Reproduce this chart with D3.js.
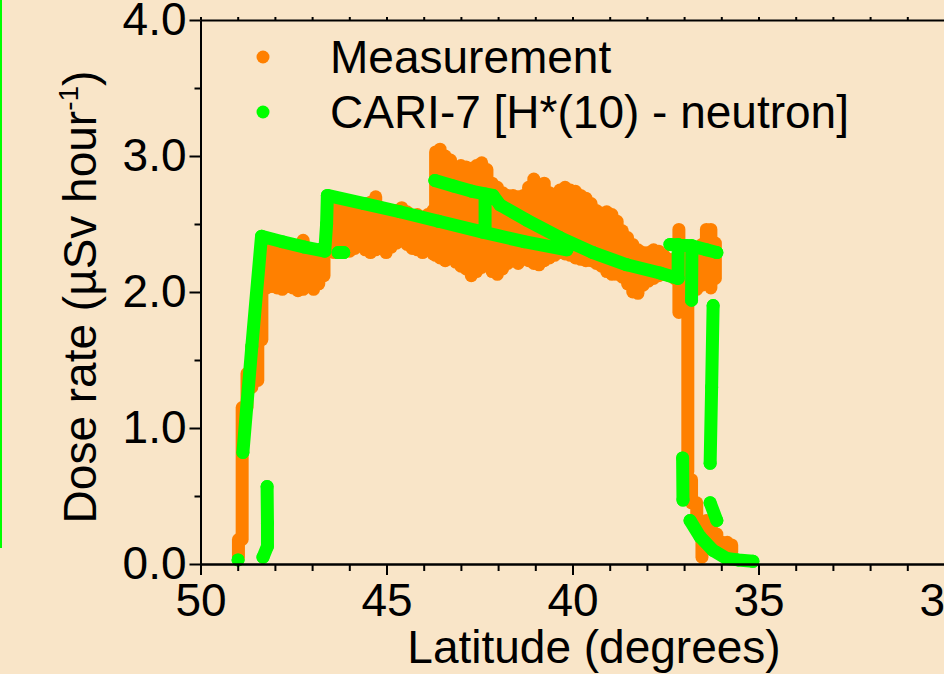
<!DOCTYPE html>
<html>
<head>
<meta charset="utf-8">
<script src="https://cdn.jsdelivr.net/npm/d3@7"></script>
<style>
  html, body { margin: 0; padding: 0; background: #f9e5c8; }
  svg { display: block; }
  text { font-family: "Liberation Sans", Arial, sans-serif; fill: #000; }
</style>
</head>
<body>
<svg id="chart" width="944" height="674"></svg>
<script>
// ---------------- DATA ----------------
// Measurement: per-latitude bins, low / high of the dense point cloud (µSv/h)
const measLat  = [48.98,48.88,48.75,48.62,48.46,48.35,48.22,48.08,47.94,47.80,47.66,47.52,47.38,47.24,47.10,46.96,46.82,46.68,
                  46.55,46.41,46.27,46.13,45.99,45.85,45.71,45.57,45.43,45.29,45.15,45.01,44.87,44.73,44.59,44.45,44.31,44.17,44.03,43.89,43.75,
                  43.68,43.56,43.42,43.28,43.14,43.00,42.86,42.72,42.58,42.44,42.30,42.16,42.02,41.88,41.74,41.60,41.46,41.32,41.18,41.04,40.90,40.76,40.62,40.48,40.34,40.20,
                  40.06,39.92,39.78,39.64,39.50,39.36,39.22,39.08,38.94,38.80,38.66,38.52,38.38,38.24,38.10,37.96,37.82,37.68,37.54,37.40,37.26,
                  37.14,37.02,36.90,36.80,36.66,36.52,36.40,36.28,36.16,
                  36.98,36.80,36.66,36.52,36.40,36.26,36.12,35.98,35.84,35.72];
const measLow  = [0.05,0.18,1.15,1.30,1.35,1.65,2.03,2.04,2.03,2.02,2.04,2.03,2.01,2.02,2.04,2.02,2.06,2.12,
                  2.30,2.29,2.32,2.33,2.30,2.32,2.35,2.31,2.29,2.31,2.33,2.29,2.33,2.36,2.40,2.35,2.32,2.31,2.29,2.32,2.28,
                  2.27,2.25,2.23,2.25,2.22,2.19,2.17,2.12,2.15,2.18,2.21,2.15,2.13,2.17,2.21,2.23,2.21,2.25,2.23,2.21,2.20,2.23,2.25,2.27,2.29,2.28,
                  2.27,2.25,2.24,2.23,2.23,2.21,2.19,2.15,2.13,2.13,2.11,2.06,2.00,1.99,2.05,2.08,2.10,2.12,2.13,2.12,2.10,
                  1.85,1.95,0.68,1.98,2.02,2.05,2.06,2.03,2.10,
                  0.62,0.45,0.32,0.05,0.20,0.15,0.12,0.10,0.10,0.09];
const measHigh = [0.18,1.15,1.40,1.60,1.90,2.35,2.37,2.36,2.33,2.31,2.30,2.30,2.32,2.38,2.31,2.28,2.26,2.26,
                  2.65,2.62,2.60,2.61,2.62,2.61,2.59,2.60,2.66,2.70,2.62,2.58,2.57,2.60,2.62,2.59,2.56,2.57,2.55,2.57,2.60,
                  3.03,3.05,3.00,2.97,2.91,2.93,2.92,2.91,2.93,2.95,2.90,2.80,2.77,2.73,2.71,2.71,2.70,2.71,2.77,2.83,2.79,2.80,2.73,2.71,2.75,2.77,
                  2.75,2.74,2.71,2.69,2.65,2.60,2.58,2.59,2.57,2.52,2.45,2.40,2.35,2.31,2.29,2.29,2.31,2.30,2.27,2.24,2.24,
                  2.46,2.28,2.27,2.28,2.30,2.35,2.46,2.46,2.36,
                  0.78,0.62,0.45,0.30,0.32,0.26,0.22,0.16,0.16,0.14];

// CARI-7 [H*(10) - neutron] model points (null = break between track pieces)
const cariLat  = [48.99, null,
                  48.86,48.62,48.36,47.80,47.20,46.66,46.61,46.59,45.60,44.64,43.60,42.41,41.30,40.15, null,
                  46.30,46.15, null,
                  43.70,43.20,42.70,42.14,41.95,41.24,40.34,39.45,38.54,37.65,37.16,37.16, null,
                  37.38,36.80,36.40,36.12, null,
                  36.79,36.80, null,
                  42.35,42.35, null,
                  36.22,36.26,36.30, null,
                  37.04,37.03, null,
                  36.84,36.57,36.22,35.85,35.55,35.15, null,
                  36.30,36.12, null,
                  48.21,48.20,48.20,48.32];
const cariDose = [0.03, null,
                  0.82,1.60,2.41,2.37,2.33,2.30,2.50,2.71,2.65,2.59,2.52,2.44,2.37,2.31, null,
                  2.29,2.29, null,
                  2.82,2.78,2.74,2.71,2.64,2.53,2.40,2.29,2.20,2.14,2.10,2.35, null,
                  2.35,2.34,2.31,2.29, null,
                  2.34,1.94, null,
                  2.72,2.45, null,
                  1.90,1.30,0.74, null,
                  0.78,0.47, null,
                  0.32,0.20,0.10,0.04,0.03,0.02, null,
                  0.45,0.32, null,
                  0.57,0.30,0.13,0.05];

const xMajorTicks = [50, 45, 40, 35, 30];
const xMinorTicks = [49, 48, 47, 46, 44, 43, 42, 41, 39, 38, 37, 36, 34, 33, 32, 31];
const yMajorTicks = [0, 1, 2, 3, 4];
const yMinorTicks = [0.5, 1.5, 2.5, 3.5];
const seriesNames = ["Measurement", "CARI-7 [H*(10) - neutron]"];
const seriesColors = ["#ff8000", "#00ff00"];

// ---------------- CHART ----------------
(function () {
const svg = d3.select("#chart");
const W = 944, H = 674;
svg.append("rect").attr("width", W).attr("height", H).attr("fill", "#f9e5c8");

const pLeft = 200.5, pRight = 944.5, pTop = 20, pBottom = 564;
const x = d3.scaleLinear().domain([50, 30]).range([pLeft, pRight]);
const y = d3.scaleLinear().domain([0, 4]).range([pBottom, pTop]);

// stray green frame edge at far left
svg.append("line").attr("x1", 1).attr("x2", 1).attr("y1", 0).attr("y2", 548)
  .attr("stroke", "#00ff00").attr("stroke-width", 2);

// Measurement cloud
const meas = measLat.map((lat, i) => ({lat, lo: measLow[i], hi: measHigh[i]}));
svg.append("g").selectAll("line").data(meas).join("line")
  .attr("x1", d => x(d.lat)).attr("x2", d => x(d.lat))
  .attr("y1", d => y(d.lo)).attr("y2", d => y(d.hi))
  .attr("stroke", seriesColors[0]).attr("stroke-width", 13)
  .attr("stroke-linecap", "round");

// CARI-7 points
const cari = cariLat.map((lat, i) => ({lat, v: cariDose[i]}));
const line = d3.line().defined(d => d.lat != null).x(d => x(d.lat)).y(d => y(d.v));
svg.append("path").datum(cari).attr("d", line)
  .attr("fill", "none").attr("stroke", seriesColors[1]).attr("stroke-width", 13)
  .attr("stroke-linecap", "round").attr("stroke-linejoin", "round");
svg.append("g").selectAll("circle").data(cari.filter(d => d.lat != null)).join("circle")
  .attr("cx", d => x(d.lat)).attr("cy", d => y(d.v)).attr("r", 6.5)
  .attr("fill", seriesColors[1]);

// Axes
function styleAxis(g) {
  g.selectAll("path.domain").attr("stroke", "#000").attr("stroke-width", 2);
  g.selectAll(".tick line").attr("stroke", "#000").attr("stroke-width", 2);
  g.selectAll("text").attr("font-size", 46).attr("font-family", "Liberation Sans, Arial, sans-serif").attr("fill", "#000");
}
const xAxisG = svg.append("g").attr("transform", `translate(0,${pBottom})`)
  .call(d3.axisBottom(x).tickValues(xMajorTicks).tickFormat(d3.format("d")).tickSize(11).tickSizeOuter(0).tickPadding(8));
styleAxis(xAxisG);
const xMinorG = svg.append("g").attr("transform", `translate(0,${pBottom})`)
  .call(d3.axisBottom(x).tickValues(xMinorTicks).tickFormat("").tickSize(7).tickSizeOuter(0));
styleAxis(xMinorG);

const topG = svg.append("g").attr("transform", `translate(0,${pTop})`)
  .call(d3.axisTop(x).tickValues(xMajorTicks.concat(xMinorTicks)).tickFormat("").tickSize(3).tickSizeOuter(0));
styleAxis(topG);

const yAxisG = svg.append("g").attr("transform", `translate(${pLeft},0)`)
  .call(d3.axisLeft(y).tickValues(yMajorTicks).tickFormat(d3.format(".1f")).tickSize(11).tickSizeOuter(0).tickPadding(3));
styleAxis(yAxisG);
const yMinorG = svg.append("g").attr("transform", `translate(${pLeft},0)`)
  .call(d3.axisLeft(y).tickValues(yMinorTicks).tickFormat("").tickSize(6).tickSizeOuter(0));
styleAxis(yMinorG);

// Axis titles
svg.append("text").attr("x", 594).attr("y", 663).attr("text-anchor", "middle")
  .attr("font-size", 46).text("Latitude (degrees)");

const yl = svg.append("text").attr("transform", "translate(96,297) rotate(-90)")
  .attr("text-anchor", "middle").attr("font-size", 46);
yl.append("tspan").text("Dose rate (µSv hour");
yl.append("tspan").attr("font-size", 28).attr("dy", -18).text("-1");
yl.append("tspan").attr("dy", 18).text(")");

// Legend
const legY = [57, 112];
const lg = svg.append("g");
seriesNames.forEach((name, i) => {
  lg.append("circle").attr("cx", 263).attr("cy", legY[i]).attr("r", 6.5).attr("fill", seriesColors[i]);
  lg.append("text").attr("x", 330).attr("y", legY[i] + 16).attr("font-size", 46).text(name);
});
})();
</script>
</body>
</html>
